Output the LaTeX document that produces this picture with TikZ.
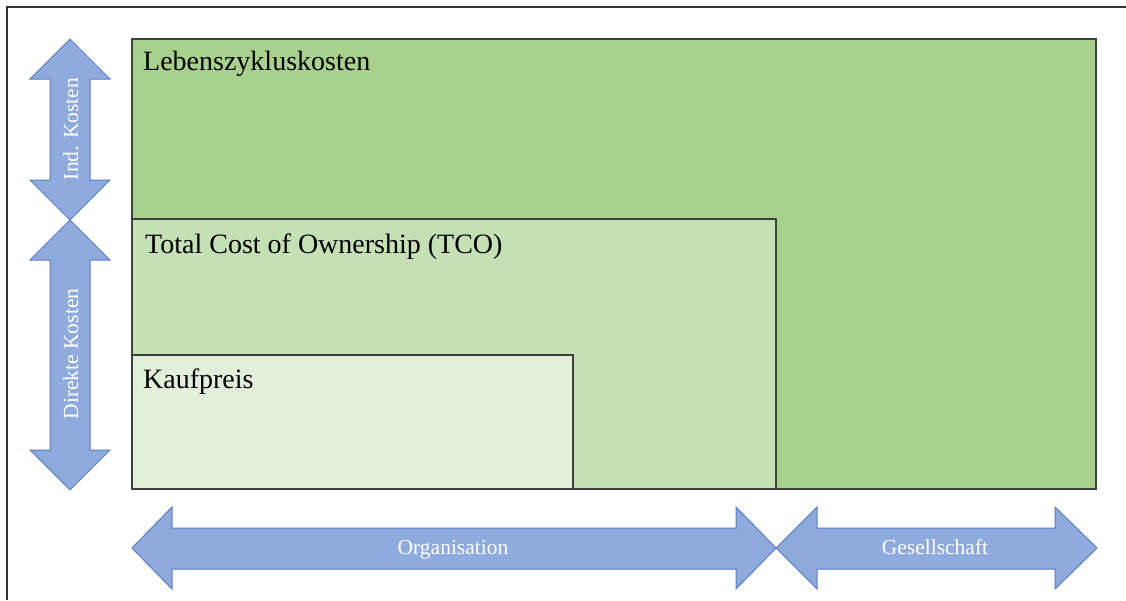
\documentclass[tikz,border=0pt]{standalone}
\usepackage{fontspec}
\setmainfont{Liberation Serif}
\definecolor{gDark}{HTML}{A9D18E}
\definecolor{gMid}{HTML}{C5E0B4}
\definecolor{gLight}{HTML}{E2EFDA}
\definecolor{arrFill}{HTML}{8FAADC}
\definecolor{arrLine}{HTML}{5A7EC0}
\definecolor{boxLine}{HTML}{404040}
\begin{document}
\begin{tikzpicture}[x=1pt,y=-1pt,
  box/.style={draw=boxLine,line width=1.2pt},
  fatarrow/.style={fill=arrFill,draw=arrLine,line width=1pt,line join=miter},
  boxlabel/.style={anchor=base west,inner sep=0pt,font=\fontsize{28}{32}\selectfont},
  arrlabel/.style={anchor=base,text=white,inner sep=0pt,font=\fontsize{21.5}{25}\selectfont}]
\useasboundingbox (0,0) rectangle (1126,600);
% frame
\draw[line width=1.2pt,draw=black!80] (7,600) -- (7,7) -- (1126,7);
% boxes
\draw[box,fill=gDark] (132,39) rectangle (1096,489);
\draw[box,fill=gMid] (132,219) rectangle (776,489);
\draw[box,fill=gLight] (132,355) rectangle (573,489);
\node[boxlabel] (lzk) at (143,70) {Lebenszykluskosten};
\node[boxlabel] (tco) at (145,253) {Total Cost of Ownership (TCO)};
\node[boxlabel] (kp) at (143,388) {Kaufpreis};
% vertical arrows
\draw[fatarrow] (70,39) -- (110,79) -- (90,79) -- (90,180) -- (110,180) -- (70,220) -- (30,180) -- (50,180) -- (50,79) -- (30,79) -- cycle;
\draw[fatarrow] (70,220) -- (110,260) -- (90,260) -- (90,450) -- (110,450) -- (70,490) -- (30,450) -- (50,450) -- (50,260) -- (30,260) -- cycle;
\node[arrlabel,rotate=90] (ind) at (78,129) {Ind. Kosten};
\node[arrlabel,rotate=90] (dir) at (78,354) {Direkte Kosten};
% horizontal arrows
\draw[fatarrow] (132,548) -- (172,507) -- (172,528) -- (736,528) -- (736,507) -- (776,548) -- (736,589) -- (736,569) -- (172,569) -- (172,589) -- cycle;
\draw[fatarrow] (776,548) -- (817,507) -- (817,528) -- (1055,528) -- (1055,507) -- (1097,548) -- (1055,589) -- (1055,569) -- (817,569) -- (817,589) -- cycle;
\node[arrlabel] (org) at (453,554) {Organisation};
\node[arrlabel] (ges) at (935,554) {Gesellschaft};
\end{tikzpicture}
\end{document}
